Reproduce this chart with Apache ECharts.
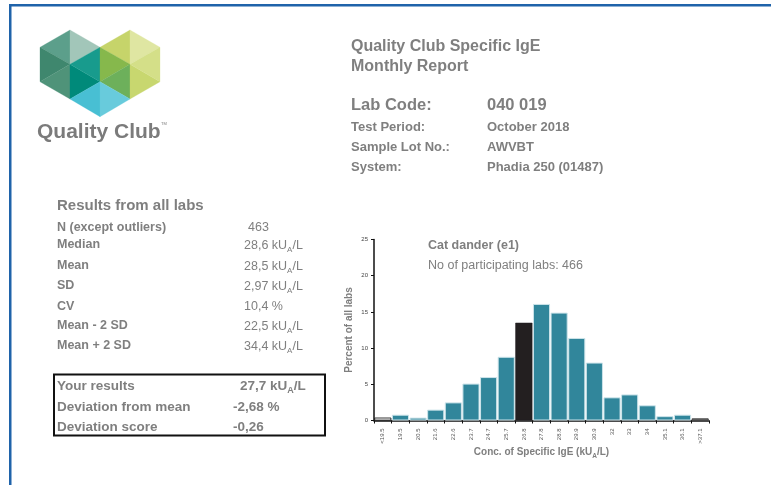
<!DOCTYPE html>
<html>
<head>
<meta charset="utf-8">
<script src="https://cdn.jsdelivr.net/npm/echarts@6/dist/echarts.min.js"></script>
<style>
  html, body { margin: 0; padding: 0; background: #fff; }
  #main { width: 771px; height: 485px; }
</style>
</head>
<body>
<div id="main"></div>
<script>
// histogram data
const categories = ['<19.5', '19.5', '20.5', '21.6', '22.6', '23.7', '24.7', '25.7', '26.8', '27.8',
  '28.8', '29.9', '30.9', '32', '33', '34', '35.1', '36.1', '>37.1']
const percent = [0.4, 0.8, 0.4, 1.5, 2.5, 5.1, 6.0, 8.8, 13.5, 16.1, 14.9, 11.4, 8.0, 3.2, 3.6, 2.1, 0.6, 0.8, 0.3]
const ownIndex = 8

// report text
const headerLabels = ['Test Period:', 'Sample Lot No.:', 'System:']
const headerValues = ['October 2018', 'AWVBT', 'Phadia 250 (01487)']
const statLabels = ['N (except outliers)', 'Median', 'Mean', 'SD', 'CV', 'Mean - 2 SD', 'Mean + 2 SD']
const statValues = ['463', '28,6', '28,5', '2,97', '10,4 %', '22,5', '34,4']
const statY = [228, 245, 266, 286, 307, 326, 346]
const yourLabels = ['Your results', 'Deviation from mean', 'Deviation score']
const yourValues = ['27,7', '-2,68 %', '-0,26']

const FONT = '"Liberation Sans", Arial, sans-serif'
const GREY = '#7f7f7f'
const TEAL = '#31869b'

const chart = echarts.init(document.getElementById('main'))

function txt (x, y, text, size, bold, extra) {
  return {
    type: 'text',
    x: x,
    y: y,
    style: Object.assign({
      text: text,
      fill: GREY,
      font: (bold ? 'bold ' : '') + size + 'px ' + FONT,
      verticalAlign: 'middle'
    }, extra || {})
  }
}

// value with kUA/L unit (subscript A)
function unitTxt (x, y, value, size, bold) {
  const w = bold ? 'bold' : 'normal'
  return {
    type: 'text',
    x: x,
    y: y - 0.5,
    style: {
      text: '{a|' + value + ' kU}{s|A}{a|/L}',
      verticalAlign: 'middle',
      rich: {
        a: { fontSize: size, fontWeight: w, fontFamily: FONT, fill: GREY, lineHeight: size + 2, verticalAlign: 'bottom' },
        s: { fontSize: size - 4.5, fontWeight: w, fontFamily: FONT, fill: GREY, lineHeight: size - 4.5, verticalAlign: 'bottom', padding: [0, 0, -2, 0] }
      }
    }
  }
}

function tri (pts, color) {
  return {
    type: 'polygon',
    shape: { points: pts },
    style: { fill: color, stroke: color, lineWidth: 0.3 }
  }
}

const graphics = []

// frame lines
graphics.push({ type: 'rect', shape: { x: 9, y: 4, width: 762, height: 2.5 }, style: { fill: '#1f63aa' } })
graphics.push({ type: 'rect', shape: { x: 9, y: 4, width: 2.5, height: 481 }, style: { fill: '#1f63aa' } })

// logo
const L = [70, 64.3], R = [130, 64.3]
graphics.push(
  tri([[70, 30], [40, 47.3], L], '#5c9f8b'),
  tri([[70, 30], [100, 47.3], L], '#a2c6b9'),
  tri([[40, 47.3], [40, 81.7], L], '#3f876e'),
  tri([[40, 81.7], [70, 99], L], '#4f9379'),
  tri([[70, 99], [100, 81.7], L], '#008a7a'),
  tri([[100, 47.3], [100, 81.7], L], '#189b8d'),
  tri([[130, 30], [100, 47.3], R], '#c6d46a'),
  tri([[130, 30], [160, 47.3], R], '#dfe6a2'),
  tri([[100, 47.3], [100, 81.7], R], '#86b84c'),
  tri([[100, 81.7], [130, 99], R], '#6db05b'),
  tri([[130, 99], [160, 81.7], R], '#c8d76f'),
  tri([[160, 47.3], [160, 81.7], R], '#d4df88'),
  tri([[70, 99], [100, 81.7], [100, 116.7]], '#48bfd3'),
  tri([[100, 81.7], [130, 99], [100, 116.7]], '#68cbdc')
)
graphics.push(txt(37, 132, 'Quality Club', 21, true, { fill: '#7b7b7b' }))
graphics.push(txt(161, 124, 'TM', 4, false, { fill: '#7b7b7b' }))

// header
graphics.push(txt(351, 47, 'Quality Club Specific IgE', 16, true))
graphics.push(txt(351, 67, 'Monthly Report', 16, true))
graphics.push(txt(351, 105, 'Lab Code:', 16.5, true))
graphics.push(txt(487, 105, '040 019', 16.5, true))
headerLabels.forEach((l, i) => {
  graphics.push(txt(351, 127 + i * 20, l, 13, true))
  graphics.push(txt(487, 127 + i * 20, headerValues[i], 13, true))
})

// results from all labs
graphics.push(txt(57, 206, 'Results from all labs', 15, true))
statLabels.forEach((l, i) => {
  graphics.push(txt(57, statY[i], l, 12.5, true))
  if (i === 0) {
    graphics.push(txt(248, statY[i], statValues[i], 12.5, false))
  } else if (i === 4) {
    graphics.push(txt(244, statY[i], statValues[i], 12.5, false))
  } else {
    graphics.push(unitTxt(244, statY[i], statValues[i], 12.5, false))
  }
})

// your results box
graphics.push({ type: 'rect', shape: { x: 54, y: 374.5, width: 271, height: 61 }, style: { fill: 'none', stroke: '#111', lineWidth: 2 } })
const yourY = [386, 407, 427]
yourLabels.forEach((l, i) => {
  graphics.push(txt(57, yourY[i], l, 13.5, true))
  if (i === 0) {
    graphics.push(unitTxt(240, yourY[i], yourValues[i], 13.5, true))
  } else {
    graphics.push(txt(233, yourY[i], yourValues[i], 13.5, true))
  }
})

// chart title
graphics.push(txt(428, 246, 'Cat dander (e1)', 12.5, true))
graphics.push(txt(428, 266, 'No of participating labs: 466', 12.5, false))

const barData = percent.map((v, i) => {
  let item = { color: TEAL, borderColor: '#cde4ea', borderWidth: 1 }
  if (i === 0) item = { color: '#fff', borderColor: '#000', borderWidth: 0.8 }
  if (i === ownIndex) item = { color: '#231f20', borderColor: '#231f20', borderWidth: 0.5 }
  if (i === categories.length - 1) item = { color: '#8a8a8a', borderColor: '#444', borderWidth: 1 }
  return { value: v, itemStyle: item }
})

const option = {
  animation: false,
  graphic: graphics,
  grid: { left: 374, right: 62, top: 239.5, bottom: 64.5 },
  xAxis: {
    type: 'category',
    data: categories,
    name: '{a|Conc. of Specific IgE (kU}{s|A}{a|/L)}',
    nameLocation: 'middle',
    nameGap: 24,
    nameTextStyle: {
      rich: {
        a: { fontSize: 10, fontWeight: 'bold', fontFamily: FONT, color: GREY, lineHeight: 12, verticalAlign: 'bottom' },
        s: { fontSize: 6.5, fontWeight: 'bold', fontFamily: FONT, color: GREY, lineHeight: 6.5, verticalAlign: 'bottom', padding: [0, 0, -2, 0] }
      }
    },
    axisLine: { lineStyle: { color: '#111', width: 1.5 } },
    axisTick: { show: true, length: 3, lineStyle: { color: '#111' } },
    axisLabel: { rotate: 90, fontSize: 6, color: '#555', fontFamily: FONT, margin: 8, interval: 0 }
  },
  yAxis: {
    type: 'value',
    min: 0,
    max: 25,
    interval: 5,
    name: 'Percent of all labs',
    nameLocation: 'middle',
    nameGap: 20,
    nameTextStyle: { fontSize: 10, fontWeight: 'bold', color: GREY, fontFamily: FONT },
    axisLine: { show: true, lineStyle: { color: '#111', width: 1.5 } },
    axisTick: { show: true, length: 3, lineStyle: { color: '#111' } },
    axisLabel: { fontSize: 6, color: '#444', fontFamily: FONT, margin: 6 },
    splitLine: { show: false }
  },
  series: [
    {
      type: 'bar',
      data: barData,
      barCategoryGap: '3%'
    }
  ]
}

chart.setOption(option)

window.addEventListener('resize', () => {
  chart.resize()
})
</script>
</body>
</html>
